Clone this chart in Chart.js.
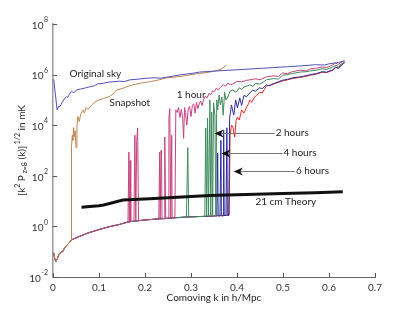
<!DOCTYPE html>
<html>
<head>
<meta charset="utf-8">
<script src="https://cdn.jsdelivr.net/npm/chart.js@4.4.1/dist/chart.umd.min.js"></script>
<style>
  html, body { margin: 0; padding: 0; background: #fff; }
  canvas { display: block; }
</style>
</head>
<body>
<canvas id="c" width="415" height="312"></canvas>
<script>
/* residual sky power vs comoving k — log y, linear x */

// shared noise floor (what is left after foreground removal at low k)
const floorK = [0.0015, 0.004, 0.006, 0.009, 0.012, 0.015, 0.018, 0.021, 0.025, 0.03, 0.035, 0.0395, 0.05, 0.065, 0.08, 0.097, 0.12, 0.145, 0.163, 0.2, 0.25, 0.29, 0.33, 0.356, 0.383];
const floorV = [0.09, 0.05, 0.041, 0.05, 0.07, 0.085, 0.1, 0.1, 0.14, 0.18, 0.22, 0.29, 0.35, 0.46, 0.58, 0.72, 0.95, 1.2, 1.5, 1.8, 2.1, 2.35, 2.5, 2.6, 2.8];

const skyK = [0.0015, 0.009, 0.012, 0.015, 0.02, 0.025, 0.029, 0.032, 0.035, 0.04, 0.045, 0.051, 0.06, 0.07, 0.08, 0.09, 0.097, 0.11, 0.12, 0.135, 0.145, 0.155, 0.167, 0.185, 0.2, 0.22, 0.235, 0.247, 0.265, 0.28, 0.3, 0.319, 0.345, 0.37, 0.4, 0.428, 0.455, 0.48, 0.51, 0.537, 0.57, 0.59, 0.602, 0.62, 0.634];
const skyV = [6.5e5, 4.0e4, 5.6e4, 5.4e4, 8.0e4, 1.1e5, 1.35e5, 1.25e5, 1.6e5, 2.2e5, 1.9e5, 2.45e5, 2.7e5, 2.95e5, 3.3e5, 3.6e5, 4.3e5, 4.6e5, 5.0e5, 5.3e5, 5.5e5, 5.3e5, 6.2e5, 6.6e5, 7.1e5, 7.5e5, 7.2e5, 7.9e5, 9.0e5, 1.0e6, 1.1e6, 1.26e6, 1.35e6, 1.45e6, 1.55e6, 1.66e6, 1.78e6, 1.9e6, 2.05e6, 2.2e6, 2.45e6, 2.4e6, 2.7e6, 3.0e6, 3.5e6];

const snapK = [0.040, 0.0405, 0.042, 0.043, 0.045, 0.046, 0.048, 0.050, 0.052, 0.054, 0.057, 0.06, 0.063, 0.065, 0.068, 0.072, 0.076, 0.08, 0.085, 0.09, 0.095, 0.1, 0.11, 0.123, 0.13, 0.138, 0.15, 0.16, 0.173, 0.19, 0.21, 0.23, 0.247, 0.265, 0.282, 0.3, 0.319, 0.335, 0.351, 0.365, 0.377];
const snapV = [420, 1.4e3, 4.0e3, 2.5e3, 8.0e3, 3.5e3, 6.0e3, 1.3e3, 9.0e3, 2.2e4, 1.4e4, 2.6e4, 3.5e4, 4.0e4, 3.0e4, 5.0e4, 4.2e4, 5.2e4, 6.5e4, 8.0e4, 9.0e4, 1.0e5, 1.15e5, 1.35e5, 1.7e5, 2.45e5, 2.8e5, 3.3e5, 3.9e5, 4.6e5, 5.2e5, 6.2e5, 7.4e5, 8.0e5, 8.7e5, 1.0e6, 1.12e6, 1.2e6, 1.38e6, 1.6e6, 2.4e6];

const hour1K = [0.165, 0.166, 0.168, 0.169, 0.176, 0.178, 0.18, 0.182, 0.184, 0.186, 0.2, 0.23, 0.232, 0.233, 0.235, 0.236, 0.237, 0.242, 0.243, 0.245, 0.25, 0.252, 0.254, 0.256, 0.258, 0.259, 0.265,
  0.267, 0.270, 0.273, 0.276, 0.279, 0.282, 0.284, 0.286, 0.288, 0.291, 0.294, 0.297, 0.300, 0.303, 0.306, 0.309, 0.312, 0.315, 0.318, 0.321, 0.324, 0.327, 0.331, 0.335, 0.339, 0.343, 0.347, 0.351, 0.355, 0.359, 0.363, 0.367, 0.370, 0.375, 0.380, 0.385, 0.39, 0.40, 0.41, 0.42, 0.428, 0.44, 0.45, 0.464, 0.48, 0.49, 0.499, 0.51, 0.52, 0.537, 0.55, 0.56, 0.573, 0.585, 0.595, 0.608, 0.615, 0.62, 0.628, 0.634];
const hour1V = [870, 1.5, 400, 1.6, 1.6, 4.0e3, 1.7, 2.5e3, 7.8e3, 1.7, 1.8, 2.0, 870, 2.0, 1.0e3, 600, 2.0, 2.0, 3.4e3, 2.0, 2.1, 2.0e4, 4.5e4, 2.1, 4.0e3, 2.1, 2.2,
  4.0e4, 3.2e4, 5.0e4, 2.0e4, 4.2e4, 1.8e4, 3.0e3, 5.0e4, 3.2e4, 1.0e4, 4.5e4, 5.5e4, 2.2e4, 6.0e4, 7.0e4, 3.0e4, 8.0e4, 4.5e4, 7.0e4, 9.0e4, 6.0e4, 1.0e5, 1.4e5, 1.2e5, 1.8e5, 1.6e5, 2.3e5, 2.1e5, 2.9e5, 2.5e5, 3.0e5, 3.6e5, 4.0e5, 3.5e5, 4.6e5, 4.0e5, 4.2e5, 5.4e5, 5.2e5, 5.9e5, 6.2e5, 6.8e5, 6.3e5, 8.1e5, 9.0e5, 8.4e5, 1.15e6, 1.1e6, 1.3e6, 1.5e6, 1.4e6, 1.7e6, 1.8e6, 2.0e6, 1.9e6, 2.4e6, 2.9e6, 2.5e6, 3.2e6, 3.4e6];

const hour2K = [0.293, 0.295, 0.33, 0.332, 0.334, 0.336, 0.338, 0.341, 0.343, 0.345, 0.347, 0.349, 0.352, 0.354, 0.356, 0.358, 0.361, 0.364, 0.367, 0.370, 0.373, 0.376, 0.380, 0.385, 0.391, 0.398, 0.405, 0.41, 0.415, 0.428, 0.435, 0.44, 0.45, 0.464, 0.48, 0.49, 0.499, 0.51, 0.52, 0.537, 0.55, 0.56, 0.573, 0.585, 0.595, 0.608, 0.615, 0.62, 0.628, 0.634];
const hour2V = [1.3e3, 2.35, 2.5, 7.8e3, 2.5, 1.9e4, 2.5, 1.0e5, 2.5, 3.3e4, 2.6, 7.6e4, 2.5e4, 2.6, 1.0e5, 4.0e4, 1.55e5, 6.3e4, 1.3e5, 2.5e4, 2.0e5, 1.0e5, 1.3e5, 2.2e5, 2.45e5, 2.0e5, 3.0e5, 2.6e5, 3.2e5, 3.9e5, 3.4e5, 4.5e5, 4.2e5, 6.2e5, 7.0e5, 6.6e5, 9.5e5, 1.0e6, 1.1e6, 1.26e6, 1.3e6, 1.4e6, 1.5e6, 1.7e6, 1.6e6, 2.0e6, 2.3e6, 2.1e6, 2.7e6, 3.0e6];

const hour4K = [0.358, 0.359, 0.363, 0.365, 0.366, 0.370, 0.371, 0.372, 0.376, 0.378, 0.379, 0.382, 0.384, 0.388, 0.393, 0.397, 0.401, 0.406, 0.410, 0.415, 0.421, 0.428, 0.434, 0.44, 0.449, 0.455, 0.464, 0.47, 0.475, 0.485, 0.499, 0.51, 0.52, 0.537, 0.55, 0.56, 0.573, 0.585, 0.595, 0.608, 0.615, 0.62, 0.628, 0.634];
const hour4V = [800, 2.6, 2.6, 2.5e3, 2.6, 2.6, 6.3e3, 2.7, 2.7, 7.9e3, 2.7, 2.7, 1.9e4, 6.3e4, 2.5e4, 1.0e5, 4.8e4, 1.2e5, 6.0e4, 1.5e5, 1.35e5, 1.9e5, 2.45e5, 2.2e5, 3.0e5, 2.8e5, 3.9e5, 3.6e5, 4.1e5, 4.8e5, 6.0e5, 6.5e5, 7.4e5, 8.1e5, 9.0e5, 1.0e6, 1.1e6, 1.3e6, 1.25e6, 1.55e6, 2.0e6, 1.8e6, 2.5e6, 3.0e6];

const hour6K = [0.385, 0.388, 0.391, 0.395, 0.398, 0.401, 0.405, 0.41, 0.415, 0.421, 0.425, 0.428, 0.432, 0.438, 0.443, 0.449, 0.455, 0.464, 0.475, 0.485, 0.499, 0.51, 0.52, 0.537, 0.55, 0.56, 0.573, 0.585, 0.595, 0.608, 0.615, 0.62, 0.628, 0.634];
const hour6V = [4.0e3, 1.0e4, 8.5e3, 3.4e3, 1.5e4, 2.1e4, 1.6e4, 4.0e4, 3.0e4, 5.2e4, 7.0e4, 1.0e5, 8.0e4, 1.3e5, 1.5e5, 2.0e5, 1.9e5, 3.6e5, 3.9e5, 4.6e5, 5.6e5, 6.2e5, 7.0e5, 7.7e5, 8.6e5, 9.5e5, 1.05e6, 1.25e6, 1.2e6, 1.5e6, 1.9e6, 1.75e6, 2.4e6, 3.0e6];

const theoryK = [0.062, 0.08, 0.1, 0.11, 0.123, 0.152, 0.21, 0.28, 0.341, 0.42, 0.5, 0.57, 0.63];
const theoryV = [5.7, 6.1, 6.6, 7.0, 8.0, 11, 12.4, 14.5, 16.5, 18.3, 20, 21.5, 23.4];

const xTicks = [0, 0.1, 0.2, 0.3, 0.4, 0.5, 0.6, 0.7];
const yExps = [-2, 0, 2, 4, 6, 8];

// text notes, placed in data units; arrows point left to tipK
const notes = [
  { text: 'Original sky', k: 0.036, v: 1.05e6 },
  { text: 'Snapshot', k: 0.123, v: 7.8e4 },
  { text: '1 hour', k: 0.269, v: 1.6e5 },
  { text: '2 hours', k: 0.484, v: 4.9e3, tipK: 0.351 },
  { text: '4 hours', k: 0.501, v: 780, tipK: 0.366 },
  { text: '6 hours', k: 0.528, v: 155, tipK: 0.393 },
  { text: '21 cm Theory', k: 0.44, v: 9.5 }
];

const FONT = 'Lato, "Open Sans", sans-serif';
const pts = (ks, vs) => ks.map((k, i) => ({ x: k, y: vs[i] }));
const floorUpTo = (kEnd) => pts(floorK, floorV).filter(p => p.x < kEnd);

const line = (data, color, width) => ({
  data, borderColor: color, borderWidth: width || 1, pointRadius: 0, tension: 0, fill: false
});

// dataset 0 is drawn on top
const datasets = [
  line(pts(theoryK, theoryV), '#111111', 3),
  line(pts(skyK, skyV), '#5050bd', 1),
  line(floorUpTo(0.04).concat(pts(snapK, snapV)), '#c08552', 1),
  line(floorUpTo(0.164).concat(pts(hour1K, hour1V)), '#c4447f', 1),
  line(floorUpTo(0.292).concat(pts(hour2K, hour2V)), '#3f8a5e', 1),
  line(floorUpTo(0.357).concat(pts(hour4K, hour4V)), '#2a2a9c', 1),
  line(floorUpTo(0.384).concat(pts(hour6K, hour6V)), '#e62a2a', 1)
];

const decor = {
  id: 'decor',
  afterDraw(chart) {
    const { ctx, chartArea: a } = chart;
    const xs = chart.scales.x, ys = chart.scales.y;
    ctx.save();

    // inward tick marks
    ctx.strokeStyle = '#555';
    ctx.lineWidth = 1;
    ctx.beginPath();
    xTicks.forEach(t => {
      const px = Math.round(xs.getPixelForValue(t)) + 0.5;
      ctx.moveTo(px, a.bottom); ctx.lineTo(px, a.bottom - 4);
    });
    yExps.forEach(e => {
      const py = Math.round(ys.getPixelForValue(Math.pow(10, e))) + 0.5;
      ctx.moveTo(a.left, py); ctx.lineTo(a.left + 4, py);
    });
    ctx.stroke();

    // y tick labels: 10 with raised exponent
    ctx.fillStyle = '#333';
    ctx.textBaseline = 'middle';
    yExps.forEach(e => {
      const py = ys.getPixelForValue(Math.pow(10, e));
      const ex = String(e);
      ctx.font = '7px ' + FONT;
      const ew = ctx.measureText(ex).width;
      ctx.textAlign = 'left';
      ctx.fillText(ex, a.left - 5 - ew, py - 4);
      ctx.font = '10px ' + FONT;
      ctx.textAlign = 'right';
      ctx.fillText('10', a.left - 5.5 - ew, py + 1.5);
    });

    // y axis title with sub/superscripts
    const segs = [['[k', 10, 0], ['2', 7, -4], [' P', 10, 0], [' z=8', 7, 3], [' (k)]', 10, 0], [' 1/2', 7, -4], [' in mK', 10, 0]];
    ctx.translate(22, (a.top + a.bottom) / 2);
    ctx.rotate(-Math.PI / 2);
    let total = 0;
    segs.forEach(s => { ctx.font = s[1] + 'px ' + FONT; total += ctx.measureText(s[0]).width; });
    let cx = -total / 2;
    ctx.textAlign = 'left';
    ctx.fillStyle = '#222';
    segs.forEach(s => {
      ctx.font = s[1] + 'px ' + FONT;
      ctx.fillText(s[0], cx, s[2]);
      cx += ctx.measureText(s[0]).width;
    });
    ctx.restore();

    // notes and arrows
    ctx.save();
    ctx.font = '10px ' + FONT;
    ctx.textBaseline = 'middle';
    ctx.textAlign = 'left';
    notes.forEach(n => {
      const px = xs.getPixelForValue(n.k), py = ys.getPixelForValue(n.v);
      ctx.fillStyle = '#222';
      ctx.fillText(n.text, px, py);
      if (n.tipK !== undefined) {
        const tx = xs.getPixelForValue(n.tipK);
        const ly = Math.round(py) + 0.5;
        ctx.strokeStyle = '#777';
        ctx.lineWidth = 1;
        ctx.beginPath();
        ctx.moveTo(tx + 6, ly); ctx.lineTo(px - 1, ly);
        ctx.stroke();
        ctx.fillStyle = '#111';
        ctx.beginPath();
        ctx.moveTo(tx, ly);
        ctx.lineTo(tx + 9, ly - 4);
        ctx.lineTo(tx + 6.5, ly);
        ctx.lineTo(tx + 9, ly + 4);
        ctx.closePath();
        ctx.fill();
      }
    });
    ctx.restore();
  }
};

new Chart(document.getElementById('c'), {
  type: 'line',
  data: { datasets },
  options: {
    responsive: false, animation: false, devicePixelRatio: 1,
    layout: { padding: { top: 24, right: 40, left: 0, bottom: 0 } },
    plugins: { legend: { display: false }, tooltip: { enabled: false } },
    scales: {
      x: {
        type: 'linear', min: 0, max: 0.7,
        afterBuildTicks: s => { s.ticks = xTicks.map(v => ({ value: v })); },
        afterFit: s => { s.height = 35; },
        ticks: { font: { family: FONT, size: 10 }, color: '#333', padding: 5,
          callback: v => (v === 0 ? '0' : v.toFixed(1)) },
        grid: { display: true, drawOnChartArea: false, drawTicks: false, color: 'rgba(0,0,0,0)' },
        border: { color: '#666', width: 1 },
        title: { display: true, text: 'Comoving k in h/Mpc', color: '#222',
          font: { family: FONT, size: 10 }, padding: { top: 0, bottom: 8 } }
      },
      y: {
        type: 'logarithmic', min: 1e-2, max: 1e8,
        afterBuildTicks: s => { s.ticks = yExps.map(e => ({ value: Math.pow(10, e) })); },
        afterFit: s => { s.width = 53; },
        ticks: { display: false },
        grid: { display: true, drawOnChartArea: false, drawTicks: false, color: 'rgba(0,0,0,0)' },
        border: { color: '#9a9a9a', width: 1.5 }
      }
    }
  },
  plugins: [decor]
});
</script>
</body>
</html>
